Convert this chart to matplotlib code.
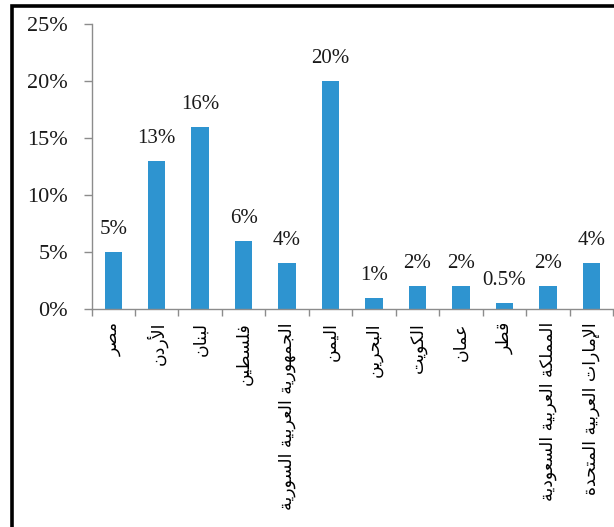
import matplotlib
matplotlib.use("Agg")
import matplotlib.pyplot as plt
from matplotlib.patches import Rectangle
from matplotlib.ticker import FuncFormatter

categories = ["مصر", "الأردن", "لبنان", "فلسطين", "الجمهورية العربية السورية", "اليمن",
              "البحرين", "الكويت", "عمان", "قطر", "المملكة العربية السعودية",
              "الإمارات العربية المتحدة"]
values = [5, 13, 16, 6, 4, 20, 1, 2, 2, 0.5, 2, 4]
value_labels = ["5%", "13%", "16%", "6%", "4%", "20%", "1%", "2%", "2%", "0.5%", "2%", "4%"]
yticks = [0, 5, 10, 15, 20, 25]

# ---- minimal Arabic shaping (presentation forms) ----
F = {
    'ا': (0xFE8D, 0xFE8E, None, None), 'أ': (0xFE83, 0xFE84, None, None),
    'إ': (0xFE87, 0xFE88, None, None), 'آ': (0xFE81, 0xFE82, None, None),
    'ب': (0xFE8F, 0xFE90, 0xFE91, 0xFE92), 'ة': (0xFE93, 0xFE94, None, None),
    'ت': (0xFE95, 0xFE96, 0xFE97, 0xFE98), 'ث': (0xFE99, 0xFE9A, 0xFE9B, 0xFE9C),
    'ج': (0xFE9D, 0xFE9E, 0xFE9F, 0xFEA0), 'ح': (0xFEA1, 0xFEA2, 0xFEA3, 0xFEA4),
    'خ': (0xFEA5, 0xFEA6, 0xFEA7, 0xFEA8), 'د': (0xFEA9, 0xFEAA, None, None),
    'ذ': (0xFEAB, 0xFEAC, None, None), 'ر': (0xFEAD, 0xFEAE, None, None),
    'ز': (0xFEAF, 0xFEB0, None, None), 'س': (0xFEB1, 0xFEB2, 0xFEB3, 0xFEB4),
    'ش': (0xFEB5, 0xFEB6, 0xFEB7, 0xFEB8), 'ص': (0xFEB9, 0xFEBA, 0xFEBB, 0xFEBC),
    'ض': (0xFEBD, 0xFEBE, 0xFEBF, 0xFEC0), 'ط': (0xFEC1, 0xFEC2, 0xFEC3, 0xFEC4),
    'ظ': (0xFEC5, 0xFEC6, 0xFEC7, 0xFEC8), 'ع': (0xFEC9, 0xFECA, 0xFECB, 0xFECC),
    'غ': (0xFECD, 0xFECE, 0xFECF, 0xFED0), 'ف': (0xFED1, 0xFED2, 0xFED3, 0xFED4),
    'ق': (0xFED5, 0xFED6, 0xFED7, 0xFED8), 'ك': (0xFED9, 0xFEDA, 0xFEDB, 0xFEDC),
    'ل': (0xFEDD, 0xFEDE, 0xFEDF, 0xFEE0), 'م': (0xFEE1, 0xFEE2, 0xFEE3, 0xFEE4),
    'ن': (0xFEE5, 0xFEE6, 0xFEE7, 0xFEE8), 'ه': (0xFEE9, 0xFEEA, 0xFEEB, 0xFEEC),
    'و': (0xFEED, 0xFEEE, None, None), 'ى': (0xFEEF, 0xFEF0, None, None),
    'ي': (0xFEF1, 0xFEF2, 0xFEF3, 0xFEF4),
}
LAMALEF = {'ا': (0xFEFB, 0xFEFC), 'أ': (0xFEF7, 0xFEF8),
           'إ': (0xFEF9, 0xFEFA), 'آ': (0xFEF5, 0xFEF6)}


def shape(text):
    toks = []
    i = 0
    while i < len(text):
        c = text[i]
        if c == 'ل' and i + 1 < len(text) and text[i + 1] in LAMALEF:
            toks.append(('LA', text[i + 1]))
            i += 2
        else:
            toks.append(('C', c))
            i += 1

    def is_ar(t):
        return t[0] == 'LA' or t[1] in F

    def dual(t):
        return t[0] == 'C' and t[1] in F and F[t[1]][2] is not None

    out = []
    for k, t in enumerate(toks):
        if not is_ar(t):
            out.append(t[1])
            continue
        jp = k > 0 and dual(toks[k - 1])
        jn = dual(t) and k + 1 < len(toks) and is_ar(toks[k + 1])
        if t[0] == 'LA':
            iso, fin = LAMALEF[t[1]]
            out.append(chr(fin if jp else iso))
            continue
        iso, fin, ini, med = F[t[1]]
        if jp and jn:
            g = med
        elif jp:
            g = fin
        elif jn:
            g = ini
        else:
            g = iso
        out.append(chr(g))
    return ''.join(out)[::-1]


W, H = 614, 527
fig = plt.figure(figsize=(W / 100, H / 100), dpi=100)
fig.patch.set_facecolor('white')

# outer frame
fig.add_artist(Rectangle((12 / W, -0.05), 1.2, 1 - 6 / H + 0.05, transform=fig.transFigure,
                         fill=False, edgecolor='black', linewidth=2.6, clip_on=False))

left, right, bottom, top = 91.5 / W, 613 / W, 1 - 309 / H, 1 - 24 / H
ax = fig.add_axes([left, bottom, right - left, top - bottom])
ax.set_facecolor('none')

x = list(range(len(categories)))
bars = ax.bar(x, values, width=0.4, color='#2E94D0', zorder=2)
ax.set_xlim(-0.5, len(categories) - 0.5)
ax.set_ylim(0, 25)

serif = ['Liberation Serif', 'DejaVu Serif']
for xi, v, lab in zip(x, values, value_labels):
    ax.annotate(lab, (xi, v), xytext=(0, 13), textcoords='offset points',
                ha='center', va='baseline', fontsize=15, family=serif, color='#1a1a1a')

ax.set_yticks(yticks)
ax.yaxis.set_major_formatter(FuncFormatter(lambda v, p: f"{int(v)}%"))
for lbl in ax.get_yticklabels():
    lbl.set_family(serif)
ax.tick_params(axis='y', length=6, width=1, color='#8c8c8c', pad=11, labelsize=16,
               labelcolor='#1a1a1a')

# x-axis: ticks at category boundaries
ax.set_xticks([k - 0.5 for k in range(len(categories) + 1)])
ax.set_xticklabels([])
ax.tick_params(axis='x', length=5, width=1, color='#8c8c8c')
for xi, c in zip(x, categories):
    ax.text(xi, -1.15, shape(c), rotation=90, ha='center', va='top',
            fontsize=12.5, family=['DejaVu Sans'], color='black')

for s in ['top', 'right']:
    ax.spines[s].set_visible(False)
ax.spines['left'].set_color('#8c8c8c')
ax.spines['bottom'].set_color('#8c8c8c')
ax.spines['left'].set_linewidth(1)
ax.spines['bottom'].set_linewidth(1)

fig.savefig('out.png', dpi=100, facecolor='white')
